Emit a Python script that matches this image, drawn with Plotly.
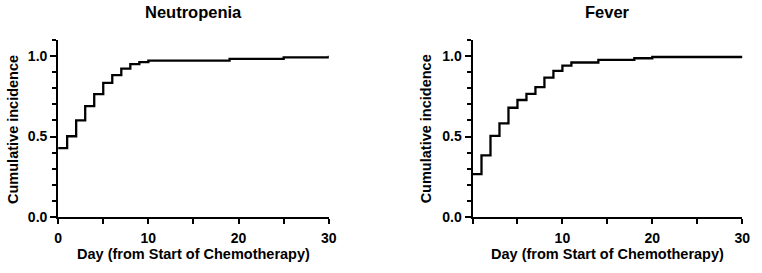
import plotly.graph_objects as go

# Neutropenia cumulative incidence (step function)
neut_days = [0, 1, 2, 3, 4, 5, 6, 7, 8, 9, 10, 19, 25, 30]
neut_cuminc = [0.428, 0.502, 0.600, 0.688, 0.762, 0.832, 0.880, 0.920, 0.948,
               0.960, 0.970, 0.980, 0.990, 1.000]

# Fever cumulative incidence (step function)
fever_days = [0, 1, 2, 3, 4, 5, 6, 7, 8, 9, 10, 11, 14, 18, 20, 30]
fever_cuminc = [0.268, 0.384, 0.504, 0.582, 0.678, 0.726, 0.764, 0.806, 0.864,
                0.906, 0.938, 0.958, 0.974, 0.984, 0.992, 1.000]

x_tickvals = [0, 5, 10, 15, 20, 25, 30]
x_ticktext_left = ["0", "", "10", "", "20", "", "30"]
x_ticktext_right = ["", "", "10", "", "20", "", "30"]
y_major = [0.0, 0.5, 1.0]
y_major_text = ["0.0", "0.5", "1.0"]
y_minor = [0.1, 0.2, 0.3, 0.4, 0.6, 0.7, 0.8, 0.9, 1.1]

titles = ["Neutropenia", "Fever"]
y_title = "Cumulative incidence"
x_title = "Day (from Start of Chemotherapy)"

W, H = 762, 273
FONT = "Liberation Sans, Arial, sans-serif"
TICKFONT = dict(family=FONT, size=14, color="black", weight="bold")

fig = go.Figure()
fig.add_trace(go.Scatter(x=neut_days, y=neut_cuminc, mode="lines",
                         line=dict(shape="hv", color="black", width=2.3),
                         xaxis="x", yaxis="y", showlegend=False, hoverinfo="skip"))
fig.add_trace(go.Scatter(x=fever_days, y=fever_cuminc, mode="lines",
                         line=dict(shape="hv", color="black", width=2.3),
                         xaxis="x2", yaxis="y2", showlegend=False, hoverinfo="skip"))
# invisible traces so the overlay (major-tick) axes are drawn
fig.add_trace(go.Scatter(x=[None], y=[None], xaxis="x", yaxis="y3", showlegend=False))
fig.add_trace(go.Scatter(x=[None], y=[None], xaxis="x2", yaxis="y4", showlegend=False))

ydom = [1 - 224 / H, 1 - 40.7 / H]
left_dom = [55 / W, 330 / W]
right_dom = [476 / W, 750 / W]

def xaxis(dom, anchor, ticktext):
    return dict(domain=dom, anchor=anchor, range=[0, 30],
                tickmode="array", tickvals=x_tickvals, ticktext=ticktext,
                ticks="outside", ticklen=5, tickwidth=2, tickcolor="black",
                ticklabelstandoff=2,
                showline=True, linewidth=2, linecolor="black",
                showgrid=False, zeroline=False, tickfont=TICKFONT)

def yaxis_minor(anchor):
    return dict(domain=ydom, anchor=anchor, range=[0, 1.1],
                tickmode="array", tickvals=y_minor, ticktext=[""] * len(y_minor),
                ticks="outside", ticklen=4, tickwidth=2, tickcolor="black",
                showline=True, linewidth=2, linecolor="black",
                showgrid=False, zeroline=False)

def yaxis_major(overlay, anchor):
    return dict(overlaying=overlay, anchor=anchor, side="left", range=[0, 1.1],
                tickmode="array", tickvals=y_major, ticktext=y_major_text,
                ticks="outside", ticklen=7, tickwidth=2, tickcolor="black",
                showline=False, showgrid=False, zeroline=False, tickfont=TICKFONT)

fig.update_layout(
    width=W, height=H,
    margin=dict(l=0, r=0, t=0, b=0),
    paper_bgcolor="white", plot_bgcolor="white",
    xaxis=xaxis(left_dom, "y", x_ticktext_left),
    yaxis=yaxis_minor("x"),
    xaxis2=xaxis(right_dom, "y2", x_ticktext_right),
    yaxis2=yaxis_minor("x2"),
    yaxis3=yaxis_major("y", "x"),
    yaxis4=yaxis_major("y2", "x2"),
)

ann = []
for dom, t, ytx in [(left_dom, titles[0], 9), (right_dom, titles[1], 429)]:
    cx = (dom[0] + dom[1]) / 2
    ann.append(dict(text=t, x=cx, y=1 - 12 / H, xref="paper", yref="paper",
                    showarrow=False, xanchor="center", yanchor="middle",
                    font=dict(family=FONT, size=16.5, color="black", weight="bold")))
    ann.append(dict(text=x_title, x=cx, y=1 - 262 / H, xref="paper", yref="paper",
                    showarrow=False, xanchor="center", yanchor="middle",
                    font=dict(family=FONT, size=14.5, color="black", weight="bold")))
    ann.append(dict(text=y_title, x=ytx / W, y=1 - 133 / H, xref="paper", yref="paper",
                    showarrow=False, xanchor="center", yanchor="middle", textangle=-90,
                    font=dict(family=FONT, size=14.5, color="black", weight="bold")))
fig.update_layout(annotations=ann)

fig.write_html("out.html")
